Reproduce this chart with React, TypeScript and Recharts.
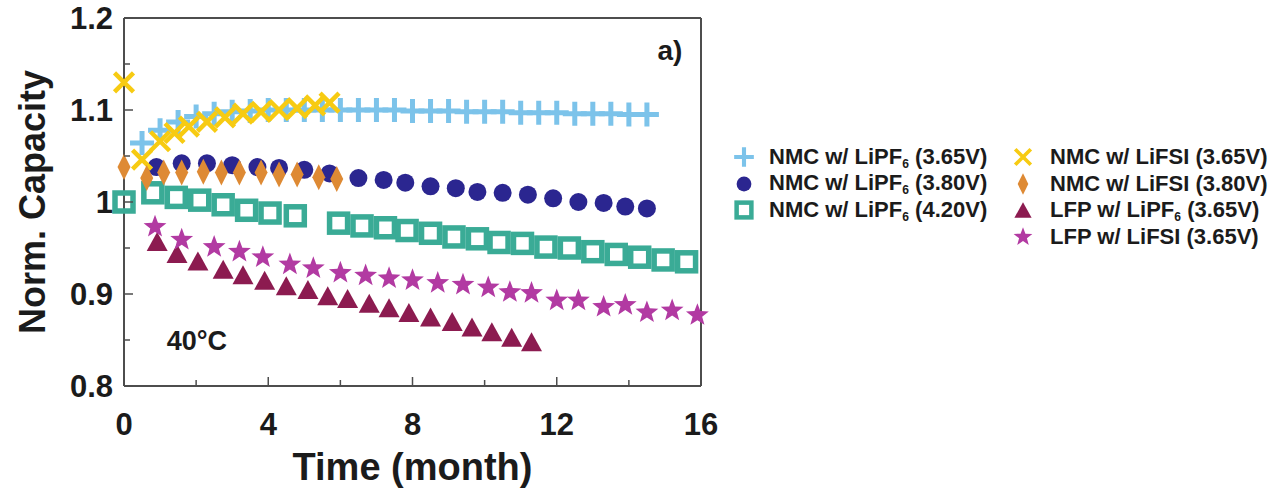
import React from 'react';
import { ScatterChart, Scatter, XAxis, YAxis, Label, ReferenceDot } from 'recharts';

const FONT = '"Liberation Sans", Arial, sans-serif';
const INK = '#1b1b1b';
const AXIS = '#4d4d4d';

const xTicks = [0, 2, 4, 6, 8, 10, 12, 14, 16];
const xLabeled = [0, 4, 8, 12, 16];
const yTicks = [0.8, 0.85, 0.9, 0.95, 1, 1.05, 1.1, 1.15, 1.2];
const yLabeled = [0.8, 0.9, 1, 1.1, 1.2];

// NMC w/ LiPF6 (3.65V)
const nmcPf365Time = [0.5, 1, 1.5, 2, 2.5, 3, 3.5, 4, 4.5, 5, 5.5, 6, 6.5, 7, 7.5, 8, 8.5, 9, 9.5, 10, 10.5, 11, 11.5, 12, 12.5, 13, 13.5, 14, 14.5];
const nmcPf365Cap = [1.064, 1.078, 1.087, 1.093, 1.096, 1.098, 1.099, 1.1, 1.1, 1.1, 1.1, 1.1, 1.1, 1.1, 1.1, 1.099, 1.099, 1.099, 1.098, 1.098, 1.098, 1.097, 1.097, 1.097, 1.096, 1.096, 1.096, 1.095, 1.095];

// NMC w/ LiPF6 (3.80V)
const nmcPf380Time = [0.9, 1.6, 2.3, 3.0, 3.7, 4.3, 5.0, 5.7, 6.5, 7.2, 7.8, 8.5, 9.2, 9.8, 10.5, 11.2, 11.9, 12.6, 13.3, 13.9, 14.5];
const nmcPf380Cap = [1.038, 1.042, 1.042, 1.04, 1.038, 1.037, 1.035, 1.031, 1.026, 1.024, 1.021, 1.017, 1.015, 1.011, 1.01, 1.008, 1.004, 1.0, 0.999, 0.995, 0.993];

// NMC w/ LiPF6 (4.20V)
const nmcPf420Time = [0, 0.8, 1.45, 2.1, 2.75, 3.4, 4.05, 4.75, 5.95, 6.6, 7.25, 7.85, 8.5, 9.15, 9.8, 10.4, 11.05, 11.7, 12.35, 13.0, 13.65, 14.3, 14.95, 15.6];
const nmcPf420Cap = [1.0, 1.01, 1.005, 1.002, 0.997, 0.991, 0.988, 0.985, 0.977, 0.974, 0.972, 0.969, 0.966, 0.962, 0.96, 0.956, 0.955, 0.951, 0.95, 0.946, 0.943, 0.94, 0.937, 0.935];

// NMC w/ LiFSI (3.65V)
const nmcFsi365Time = [0, 0.5, 1.0, 1.4, 1.8, 2.3, 2.8, 3.3, 3.8, 4.3, 4.8, 5.3, 5.7];
const nmcFsi365Cap = [1.13, 1.046, 1.066, 1.075, 1.082, 1.087, 1.092, 1.096, 1.098, 1.1, 1.102, 1.105, 1.108];

// NMC w/ LiFSI (3.80V)
const nmcFsi380Time = [0, 0.63, 1.1, 1.6, 2.2, 2.7, 3.2, 3.8, 4.3, 4.8, 5.4, 5.9];
const nmcFsi380Cap = [1.038, 1.026, 1.032, 1.032, 1.033, 1.032, 1.032, 1.032, 1.03, 1.03, 1.027, 1.025];

// LFP w/ LiPF6 (3.65V)
const lfpPf365Time = [0.92, 1.47, 2.05, 2.75, 3.3, 3.9, 4.5, 5.1, 5.65, 6.2, 6.8, 7.35, 7.9, 8.5, 9.1, 9.65, 10.2, 10.75, 11.3];
const lfpPf365Cap = [0.957, 0.944, 0.936, 0.927, 0.921, 0.915, 0.909, 0.905, 0.898, 0.895, 0.89, 0.885, 0.88, 0.875, 0.87, 0.864, 0.859, 0.853, 0.848];

// LFP w/ LiFSI (3.65V)
const lfpFsi365Time = [0.86, 1.6, 2.5, 3.2, 3.85, 4.6, 5.25, 6.0, 6.7, 7.35, 8.0, 8.7, 9.4, 10.1, 10.7, 11.3, 12.0, 12.6, 13.3, 13.9, 14.5, 15.2, 15.9];
const lfpFsi365Cap = [0.973, 0.959, 0.951, 0.946, 0.94, 0.932, 0.928, 0.923, 0.92, 0.917, 0.915, 0.912, 0.91, 0.907, 0.902, 0.901, 0.893, 0.893, 0.886, 0.888, 0.88, 0.882, 0.877];

const toPoints = (t: number[], c: number[]) => t.map((time, i) => ({ time, cap: c[i] }));

type MarkKind = 'plus' | 'circle' | 'square' | 'cross' | 'diamond' | 'triangle' | 'star';

const drawMark = (kind: MarkKind, color: string, cx: number, cy: number, s = 1) => {
  switch (kind) {
    case 'plus': {
      const a = 12 * s;
      return <path d={`M${cx - a},${cy}H${cx + a}M${cx},${cy - a}V${cy + a}`} stroke={color} strokeWidth={5 * s} fill="none" />;
    }
    case 'cross': {
      const a = 9.5 * s;
      return <path d={`M${cx - a},${cy - a}L${cx + a},${cy + a}M${cx - a},${cy + a}L${cx + a},${cy - a}`} stroke={color} strokeWidth={4.5 * s} fill="none" />;
    }
    case 'circle':
      return <circle cx={cx} cy={cy} r={9 * s} fill={color} />;
    case 'square': {
      const a = 9 * s;
      return <rect x={cx - a} y={cy - a} width={2 * a} height={2 * a} stroke={color} strokeWidth={5.5 * s} fill="none" />;
    }
    case 'diamond': {
      const w = 6.5 * s;
      const h = 13 * s;
      return <path d={`M${cx},${cy - h}L${cx + w},${cy}L${cx},${cy + h}L${cx - w},${cy}Z`} fill={color} />;
    }
    case 'triangle': {
      const w = 10.5 * s;
      const h = 9.5 * s;
      return <path d={`M${cx},${cy - h}L${cx + w},${cy + h}L${cx - w},${cy + h}Z`} fill={color} />;
    }
    case 'star': {
      const pts: string[] = [];
      for (let k = 0; k < 10; k++) {
        const r = (k % 2 === 0 ? 12 : 5) * s;
        const ang = -Math.PI / 2 + (k * Math.PI) / 5;
        pts.push(`${cx + r * Math.cos(ang)},${cy + r * Math.sin(ang)}`);
      }
      return <polygon points={pts.join(' ')} fill={color} />;
    }
  }
};

const series: { name: string; kind: MarkKind; color: string; data: { time: number; cap: number }[] }[] = [
  { name: 'NMC w/ LiPF6 (3.65V)', kind: 'plus', color: '#7cc3ea', data: toPoints(nmcPf365Time, nmcPf365Cap) },
  { name: 'NMC w/ LiPF6 (3.80V)', kind: 'circle', color: '#2b2690', data: toPoints(nmcPf380Time, nmcPf380Cap) },
  { name: 'NMC w/ LiPF6 (4.20V)', kind: 'square', color: '#3aab96', data: toPoints(nmcPf420Time, nmcPf420Cap) },
  { name: 'NMC w/ LiFSI (3.65V)', kind: 'cross', color: '#f7cb12', data: toPoints(nmcFsi365Time, nmcFsi365Cap) },
  { name: 'NMC w/ LiFSI (3.80V)', kind: 'diamond', color: '#de8a34', data: toPoints(nmcFsi380Time, nmcFsi380Cap) },
  { name: 'LFP w/ LiPF6 (3.65V)', kind: 'triangle', color: '#8c1b50', data: toPoints(lfpPf365Time, lfpPf365Cap) },
  { name: 'LFP w/ LiFSI (3.65V)', kind: 'star', color: '#b23aa2', data: toPoints(lfpFsi365Time, lfpFsi365Cap) },
];

const renderName = (name: string) => {
  const parts = name.split('LiPF6');
  if (parts.length === 1) return name;
  return (
    <>
      {parts[0]}LiPF<sub style={{ fontSize: '0.55em', verticalAlign: '-0.3em' }}>6</sub>
      {parts[1]}
    </>
  );
};

const BottomTick = (props: any) => {
  const { x, y, payload } = props;
  const major = xLabeled.includes(payload.value);
  return (
    <g>
      <line x1={x} y1={y} x2={x} y2={y - (major ? 9 : 6)} stroke={AXIS} strokeWidth={1.5} />
      {major && (
        <text x={x} y={y + 49} textAnchor="middle" fontSize={31} fontWeight="bold" fontFamily={FONT} fill={INK}>
          {payload.value}
        </text>
      )}
    </g>
  );
};

const TopTick = (props: any) => {
  const { x, y, payload } = props;
  const major = xLabeled.includes(payload.value);
  return <line x1={x} y1={y} x2={x} y2={y + (major ? 9 : 6)} stroke={AXIS} strokeWidth={1.5} />;
};

const isYMajor = (v: number) => yLabeled.some((m) => Math.abs(m - v) < 1e-6);

const LeftTick = (props: any) => {
  const { x, y, payload } = props;
  const major = isYMajor(payload.value);
  return (
    <g>
      <line x1={x} y1={y} x2={x + (major ? 9 : 6)} y2={y} stroke={AXIS} strokeWidth={1.5} />
      {major && (
        <text x={x - 11} y={y + 11} textAnchor="end" fontSize={31} fontWeight="bold" fontFamily={FONT} fill={INK}>
          {String(payload.value)}
        </text>
      )}
    </g>
  );
};

const RightTick = (props: any) => {
  const { x, y, payload } = props;
  const major = isYMajor(payload.value);
  return <line x1={x} y1={y} x2={x - (major ? 9 : 6)} y2={y} stroke={AXIS} strokeWidth={1.5} />;
};

const YTitle = (props: any) => {
  const { viewBox } = props;
  const cx = viewBox.x + 45;
  const cy = viewBox.y + viewBox.height / 2;
  return (
    <text x={cx} y={cy} transform={`rotate(-90, ${cx}, ${cy})`} textAnchor="middle" fontSize={36} fontWeight="bold" fontFamily={FONT} fill={INK}>
      Norm. Capacity
    </text>
  );
};

const legendCols = [
  { left: 730, items: series.slice(0, 3) },
  { left: 1009, items: series.slice(3) },
];

const ChartLegend = () => (
  <>
    {legendCols.map((col, ci) => (
      <div
        key={ci}
        style={{ position: 'absolute', left: col.left, top: 144, fontFamily: FONT, fontWeight: 'bold', fontSize: 22, color: INK }}
      >
        {col.items.map((s) => (
          <div key={s.name} style={{ display: 'flex', alignItems: 'center', height: 26.5, whiteSpace: 'nowrap' }}>
            <svg width={28} height={28} style={{ marginRight: ci === 0 ? 11 : 13 }}>
              {drawMark(s.kind, s.color, 14, 14, 0.82)}
            </svg>
            <span>{renderName(s.name)}</span>
          </div>
        ))}
      </div>
    ))}
  </>
);

export default function App() {
  return (
    <div style={{ position: 'absolute', left: 0, top: 0, width: 1278, height: 491, background: '#fff', overflow: 'hidden' }}>
      <ScatterChart width={1278} height={491} margin={{ top: 17, right: 576, bottom: 0, left: 0 }}>
        <XAxis
          dataKey="time"
          type="number"
          domain={[0, 16]}
          ticks={xTicks}
          interval={0}
          height={105}
          tickSize={0}
          tickMargin={0}
          tickLine={false}
          axisLine={{ stroke: AXIS, strokeWidth: 2 }}
          tick={<BottomTick />}
        >
          <Label value="Time (month)" position="insideBottom" offset={11} fontSize={38} fontWeight="bold" fontFamily={FONT} fill={INK} />
        </XAxis>
        <XAxis
          xAxisId="top"
          orientation="top"
          type="number"
          domain={[0, 16]}
          ticks={xTicks}
          interval={0}
          height={1}
          tickSize={0}
          tickMargin={0}
          tickLine={false}
          axisLine={{ stroke: AXIS, strokeWidth: 2 }}
          tick={<TopTick />}
        />
        <YAxis
          dataKey="cap"
          type="number"
          domain={[0.8, 1.2]}
          ticks={yTicks}
          interval={0}
          width={124}
          tickSize={0}
          tickMargin={0}
          tickLine={false}
          axisLine={{ stroke: AXIS, strokeWidth: 2 }}
          tick={<LeftTick />}
        >
          <Label content={<YTitle />} />
        </YAxis>
        <YAxis
          yAxisId="right"
          orientation="right"
          type="number"
          domain={[0.8, 1.2]}
          ticks={yTicks}
          interval={0}
          width={1}
          tickSize={0}
          tickMargin={0}
          tickLine={false}
          axisLine={{ stroke: AXIS, strokeWidth: 2 }}
          tick={<RightTick />}
        />
        {series.map((s) => (
          <Scatter
            key={s.name}
            name={s.name}
            data={s.data}
            fill={s.color}
            isAnimationActive={false}
            shape={(p: any) => drawMark(s.kind, s.color, p.cx, p.cy)}
          />
        ))}
        <ReferenceDot x={2.02} y={0.85} r={0} fill="none" stroke="none" ifOverflow="visible">
          <Label value="40°C" position="center" fontSize={27} fontWeight="bold" fontFamily={FONT} fill={INK} />
        </ReferenceDot>
        <ReferenceDot x={15.14} y={1.165} r={0} fill="none" stroke="none" ifOverflow="visible">
          <Label value="a)" position="center" fontSize={28} fontWeight="bold" fontFamily={FONT} fill={INK} />
        </ReferenceDot>
      </ScatterChart>
      <ChartLegend />
    </div>
  );
}
